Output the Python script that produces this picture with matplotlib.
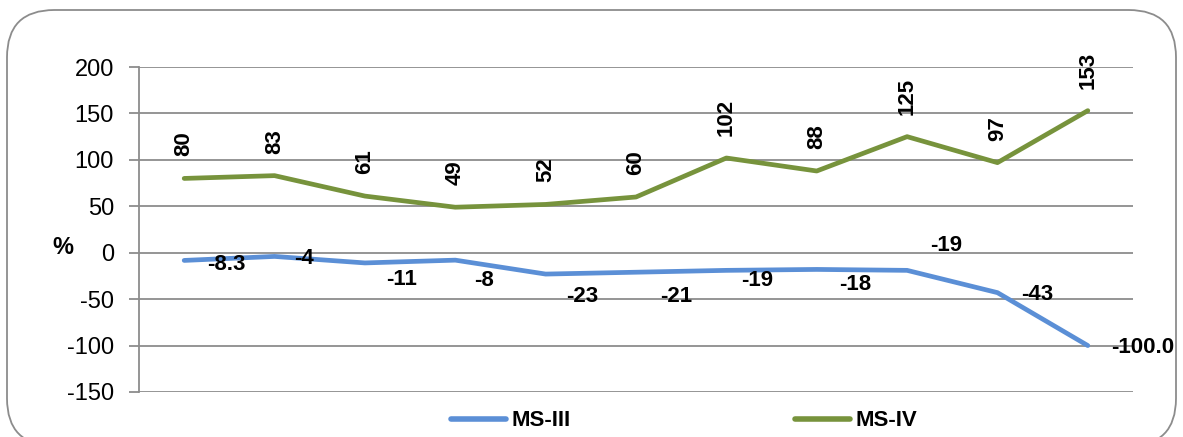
import numpy as np
from matplotlib import pyplot as plt
from matplotlib.patches import FancyBboxPatch
from matplotlib.lines import Line2D

plt.rcParams['font.family'] = ['Liberation Sans', 'DejaVu Sans']
plt.rcParams['axes.unicode_minus'] = False

# data
months = list(range(11))
ms3 = [-8.3, -4, -11, -8, -23, -21, -19, -18, -19, -43, -100]
ms4 = [80, 83, 61, 49, 52, 60, 102, 88, 125, 97, 153]
ms3_labels = ["-8.3", "-4", "-11", "-8", "-23", "-21", "-19", "-18", "-19", "-43", "-100.0"]
ms4_labels = ["80", "83", "61", "49", "52", "60", "102", "88", "125", "97", "153"]

# where the MS-III labels sit relative to their points (pixels)
ms3_offsets = [(42, -4), (29, -2), (37, -17), (29, -20), (37, -22), (40, -24),
               (31, -10), (38, -15), (39, 25), (40, -2), (55, -2)]

blue = "#5B8FD6"
green = "#77933C"
grid_c = "#8C8C8C"

W, H = 1183, 437
fig = plt.figure(figsize=(W / 100, H / 100), dpi=100)
ax = fig.add_axes([139 / W, 1 - 392 / H, (1133 - 139) / W, (392 - 67) / H])

ax.plot(months, ms3, color=blue, lw=3.4, solid_capstyle="round")
ax.plot(months, ms4, color=green, lw=3.4, solid_capstyle="round")

for i in range(len(months)):
    ax.annotate(ms4_labels[i], (months[i], ms4[i]), xytext=(0, 22),
                textcoords="offset pixels", rotation=90, ha="center", va="bottom",
                fontsize=16, fontweight="bold")
    ax.annotate(ms3_labels[i], (months[i], ms3[i]), xytext=ms3_offsets[i],
                textcoords="offset pixels", ha="center", va="center",
                fontsize=16, fontweight="bold", annotation_clip=False)

ax.set_xlim(-0.5, 10.5)
ax.set_ylim(-150, 200)
ax.set_yticks(np.arange(-150, 201, 50))
ax.set_xticks([])
ax.yaxis.grid(True, color=grid_c, lw=1.3)
ax.set_axisbelow(True)
for s in ["top", "right", "bottom"]:
    ax.spines[s].set_visible(False)
ax.spines["left"].set_color(grid_c)
ax.spines["left"].set_linewidth(1.3)
ax.tick_params(axis="y", length=7, color=grid_c, width=1.3, labelsize=17, pad=11)
ax.text(-0.0765, 6, "%", transform=ax.get_yaxis_transform(), ha="center",
        va="center", fontsize=17, fontweight="bold")

handles = [Line2D([], [], color=blue, lw=4, solid_capstyle="round"),
           Line2D([], [], color=green, lw=4, solid_capstyle="round")]
leg = fig.legend(handles, ["MS-III", "MS-IV"], loc="center", ncol=2,
                 bbox_to_anchor=(684 / W, 1 - 421 / H), frameon=False,
                 prop={"size": 16, "weight": "bold"}, handlelength=2.5,
                 handletextpad=0.22, columnspacing=10.1)

border = FancyBboxPatch((7 / W, -0.02), (1176 - 7) / W, 1 - 10 / H + 0.02,
                        boxstyle="round,pad=0,rounding_size=0.04",
                        transform=fig.transFigure, fill=False,
                        edgecolor="#8C8C8C", lw=1.3, mutation_aspect=W / H)
fig.patches.append(border)

fig.savefig("out.png", dpi=100)
